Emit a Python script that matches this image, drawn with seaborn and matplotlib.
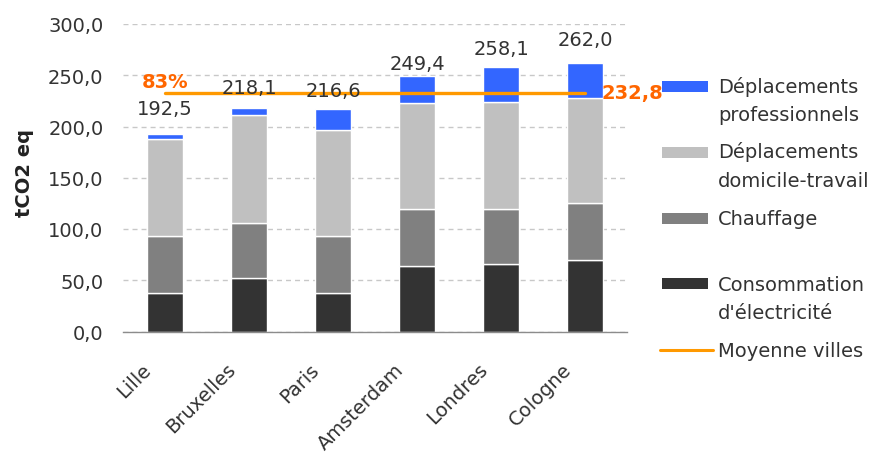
import matplotlib
matplotlib.use("Agg")
import matplotlib.pyplot as plt
import seaborn as sns
import numpy as np
from matplotlib.patches import Rectangle
from matplotlib.lines import Line2D
from matplotlib.ticker import FixedLocator
from matplotlib.transforms import ScaledTranslation

# ---------------- data ----------------
cities = ["Lille", "Bruxelles", "Paris", "Amsterdam", "Londres", "Cologne"]
electricite = [38.0, 52.5, 38.0, 64.0, 66.0, 70.0]
chauffage = [55.0, 53.5, 55.5, 56.0, 54.0, 55.0]
domicile_travail = [95.0, 105.0, 103.0, 103.0, 104.0, 103.0]
professionnels = [4.5, 7.1, 20.1, 26.4, 34.1, 34.0]
series_names = ["Consommation\nd'électricité", "Chauffage",
                "Déplacements\ndomicile-travail", "Déplacements\nprofessionnels"]
avg_name = "Moyenne villes"
y_ticks = [0, 50, 100, 150, 200, 250, 300]
y_label = "tCO2 eq"

# ---------------- style ----------------
sns.set_style("white")
plt.rcParams['font.family'] = ['DejaVu Sans']
TXT = "#333333"
colors = ["#333333", "#808080", "#C0C0C0", "#3366FF"]
AVG_LINE = "#FF9900"
AVG_TXT = "#FF6600"

W, H = 880, 456
fig = plt.figure(figsize=(W / 100, H / 100), dpi=100)
ax = fig.add_axes([123 / W, 1 - 332.5 / H, (627 - 123) / W, (332.5 - 25) / H])

layers = [electricite, chauffage, domicile_travail, professionnels]
bottom = np.zeros(len(cities))
for vals, col in zip(layers, colors):
    sns.barplot(x=cities, y=vals, color=col, saturation=1, width=0.42,
                bottom=bottom.copy(), edgecolor="white", linewidth=1.0,
                errorbar=None, ax=ax, zorder=2)
    bottom = bottom + np.array(vals)
totals = bottom
avg = totals.mean()

sns.lineplot(x=cities, y=[avg] * len(cities), color=AVG_LINE, linewidth=2.4,
             sort=False, legend=False, ax=ax, zorder=3)

# value labels above bars
label_dy = [25.1, 19.9, 19.0, 12.4, 17.7, 22.6]
for i, (t, dy) in enumerate(zip(totals, label_dy)):
    ax.text(i, t + dy, f"{t:.1f}".replace(".", ","), ha="center", va="center",
            fontsize=14, color=TXT, zorder=4)

# average annotations
ax.text(0, avg + 11.6, f"{totals[0] / avg * 100:.0f}%", ha="center", va="center",
        fontsize=14, fontweight="bold", color=AVG_TXT, zorder=4)
ax.annotate(f"{avg:.1f}".replace(".", ","), xy=(len(cities) - 1, avg),
            xytext=(12, 0), textcoords="offset points", ha="left", va="center",
            fontsize=14, fontweight="bold", color=AVG_TXT, annotation_clip=False)

# axes formatting
ax.set_ylim(0, 300)
ax.set_xlim(-0.5, len(cities) - 0.5)
ax.set_yticks(y_ticks)
ax.set_yticklabels([f"{v:.1f}".replace(".", ",") for v in y_ticks])
ax.yaxis.grid(True, color="#C8C8C8", linestyle=(0, (3.6, 2.9)), linewidth=1)
ax.xaxis.grid(False)
ax.set_axisbelow(True)
for s in ["top", "right", "left"]:
    ax.spines[s].set_visible(False)
ax.spines["bottom"].set_color("#8C8C8C")
ax.spines["bottom"].set_linewidth(1.0)
ax.tick_params(axis="y", length=0, pad=14, labelsize=14, labelcolor=TXT)
ax.tick_params(axis="x", which="major", length=0, pad=20, labelsize=14, labelcolor=TXT)
ax.xaxis.set_minor_locator(FixedLocator(np.arange(-0.5, len(cities), 1.0)))
ax.tick_params(axis="x", which="minor", length=6, width=1, color="#8C8C8C", direction="out")
shift = ScaledTranslation(-10 / 100, 0, fig.dpi_scale_trans)
for lab in ax.get_xticklabels():
    lab.set_rotation(45)
    lab.set_ha("right")
    lab.set_transform(lab.get_transform() + shift)
ax.set_xlabel("")
ax.set_ylabel("")
fig.text(25 / W, 1 - 173 / H, y_label, rotation=90, ha="center", va="center",
         fontsize=14, fontweight="bold", color="#222222")

# ---------------- legend (drawn manually) ----------------
def fy(py):
    return 1 - py / H

leg_items = [
    (series_names[3], colors[3], 87.3, [93, 121]),
    (series_names[2], colors[2], 153.3, [158, 187]),
    (series_names[1], colors[1], 219, [225]),
    (series_names[0], colors[0], 284.3, [291, 319]),
]
for name, col, cy, baselines in leg_items:
    fig.add_artist(Rectangle((662 / W, fy(cy + 5.5)), 46 / W, 11 / H,
                             transform=fig.transFigure, facecolor=col, edgecolor="none"))
    for line, by in zip(name.split("\n"), baselines):
        fig.text(718 / W, fy(by), line, ha="left", va="baseline", fontsize=14, color=TXT)
fig.add_artist(Line2D([660 / W, 713 / W], [fy(351), fy(351)], transform=fig.transFigure,
                      color=AVG_LINE, linewidth=2.2))
fig.text(718 / W, fy(357), avg_name, ha="left", va="baseline", fontsize=14, color=TXT)

fig.savefig("out.png", dpi=100)
